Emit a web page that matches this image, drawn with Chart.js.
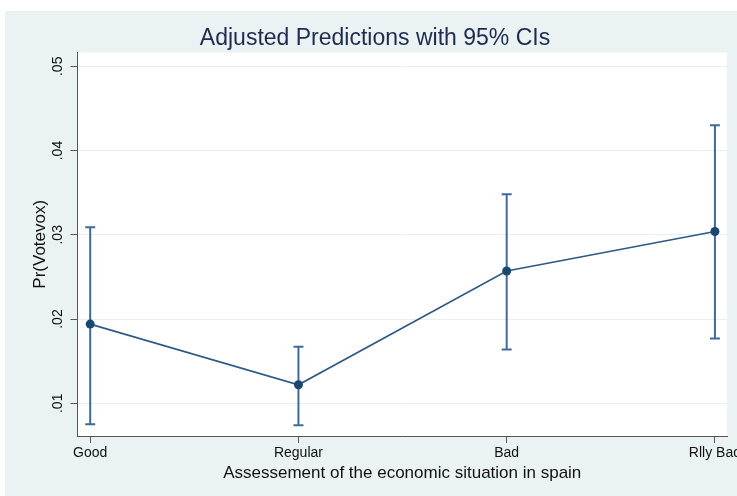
<!DOCTYPE html>
<html>
<head>
<meta charset="utf-8">
<script src="https://cdn.jsdelivr.net/npm/chart.js@4"></script>
<style>
  html, body { margin: 0; padding: 0; background: #ffffff; }
  canvas { display: block; }
</style>
</head>
<body>
<canvas id="chart" width="737" height="496"></canvas>
<script>
// ---- data ----
const categories = ["Good", "Regular", "Bad", "Rlly Bad"];
const predicted  = [0.0194, 0.0122, 0.0257, 0.0304];
const ciLow      = [0.0075, 0.0074, 0.0164, 0.0177];
const ciHigh     = [0.0309, 0.0167, 0.0348, 0.0430];
const yTicks     = [0.01, 0.02, 0.03, 0.04, 0.05];
const yTickLabels = [".01", ".02", ".03", ".04", ".05"];
const xTicks     = [0, 1, 2, 3];

const FONT = "'Liberation Sans', Arial, Helvetica, sans-serif";
const BG = "#eaf2f3";

// outer grey-blue background + white plot region + title
const backdrop = {
    id: "backdrop",
    beforeDraw(chart) {
        const ctx = chart.ctx, a = chart.chartArea;
        ctx.save();
        ctx.fillStyle = BG;
        ctx.fillRect(5, 11, chart.width - 5, chart.height - 11);
        ctx.fillStyle = "#ffffff";
        ctx.fillRect(a.left, a.top, a.right - a.left, a.bottom - a.top);
        // title
        ctx.fillStyle = "#1e2b50";
        ctx.font = "23px " + FONT;
        ctx.textAlign = "center";
        ctx.textBaseline = "middle";
        ctx.fillText("Adjusted Predictions with 95% CIs", 375, 39);
        ctx.restore();
    }
};

// confidence intervals as capped vertical bars
const errorBars = {
    id: "errorBars",
    beforeDatasetsDraw(chart) {
        const ctx = chart.ctx;
        const xs = chart.scales.x, ys = chart.scales.y;
        ctx.save();
        ctx.strokeStyle = "#41699a";
        ctx.lineWidth = 2;
        for (let i = 0; i < categories.length; i++) {
            const x = xs.getPixelForValue(i);
            const y1 = ys.getPixelForValue(ciLow[i]);
            const y2 = ys.getPixelForValue(ciHigh[i]);
            ctx.beginPath();
            ctx.moveTo(x, y1); ctx.lineTo(x, y2);
            ctx.moveTo(x - 5, y1); ctx.lineTo(x + 5, y1);
            ctx.moveTo(x - 5, y2); ctx.lineTo(x + 5, y2);
            ctx.stroke();
        }
        ctx.restore();
    }
};

// rotated y tick labels (Stata style)
const yLabels = {
    id: "yLabels",
    afterDraw(chart) {
        const ctx = chart.ctx, ys = chart.scales.y;
        ctx.save();
        ctx.fillStyle = "#111111";
        ctx.font = "14px " + FONT;
        ctx.textAlign = "center";
        ctx.textBaseline = "middle";
        for (let i = 0; i < yTicks.length; i++) {
            const y = ys.getPixelForValue(yTicks[i]);
            ctx.translate(58, y);
            ctx.rotate(-Math.PI / 2);
            ctx.fillText(yTickLabels[i], 0, 0);
            ctx.setTransform(1, 0, 0, 1, 0, 0);
        }
        ctx.restore();
    }
};

new Chart(document.getElementById("chart"), {
    type: "line",
    data: {
        datasets: [{
            data: predicted.map((v, i) => ({ x: i, y: v })),
            borderColor: "#2d5a86",
            borderWidth: 1.6,
            pointRadius: 4.5,
            pointBackgroundColor: "#1a476f",
            pointBorderColor: "#1a476f",
            pointBorderWidth: 0,
            tension: 0,
            fill: false
        }]
    },
    options: {
        responsive: false,
        animation: false,
        devicePixelRatio: 1,
        layout: { padding: { left: 0, right: 10, top: 52.5, bottom: 0 } },
        plugins: {
            legend: { display: false },
            tooltip: { enabled: false },
            title: { display: false }
        },
        scales: {
            x: {
                type: "linear",
                min: -0.061,
                max: 3.058,
                afterBuildTicks: s => { s.ticks = xTicks.map(v => ({ value: v })); },
                afterFit: s => { s.height = 60; s.paddingLeft = 0; s.paddingRight = 0; },
                ticks: {
                    callback: v => categories[v],
                    color: "#111111",
                    font: { family: FONT, size: 14 },
                    padding: 2,
                    maxRotation: 0,
                    autoSkip: false
                },
                grid: { drawOnChartArea: false, tickLength: 7, tickColor: "#555555", lineWidth: 1 },
                border: { color: "#555555", width: 1 },
                title: {
                    display: true,
                    text: "Assessement of the economic situation in spain",
                    color: "#111111",
                    font: { family: FONT, size: 17 },
                    padding: { top: 0, bottom: 12 }
                }
            },
            y: {
                min: 0.00612,
                max: 0.05164,
                afterBuildTicks: s => { s.ticks = yTicks.map(v => ({ value: v })); },
                afterFit: s => { s.width = 77.5; },
                ticks: { display: false },
                grid: { color: "#e6eff1", lineWidth: 1, tickLength: 7, tickColor: "#555555" },
                border: { color: "#555555", width: 1 },
                title: {
                    display: true,
                    text: "Pr(Votevox)",
                    color: "#111111",
                    font: { family: FONT, size: 17 },
                    padding: { top: 30, bottom: 0 }
                }
            }
        }
    },
    plugins: [backdrop, errorBars, yLabels]
});
</script>
</body>
</html>
